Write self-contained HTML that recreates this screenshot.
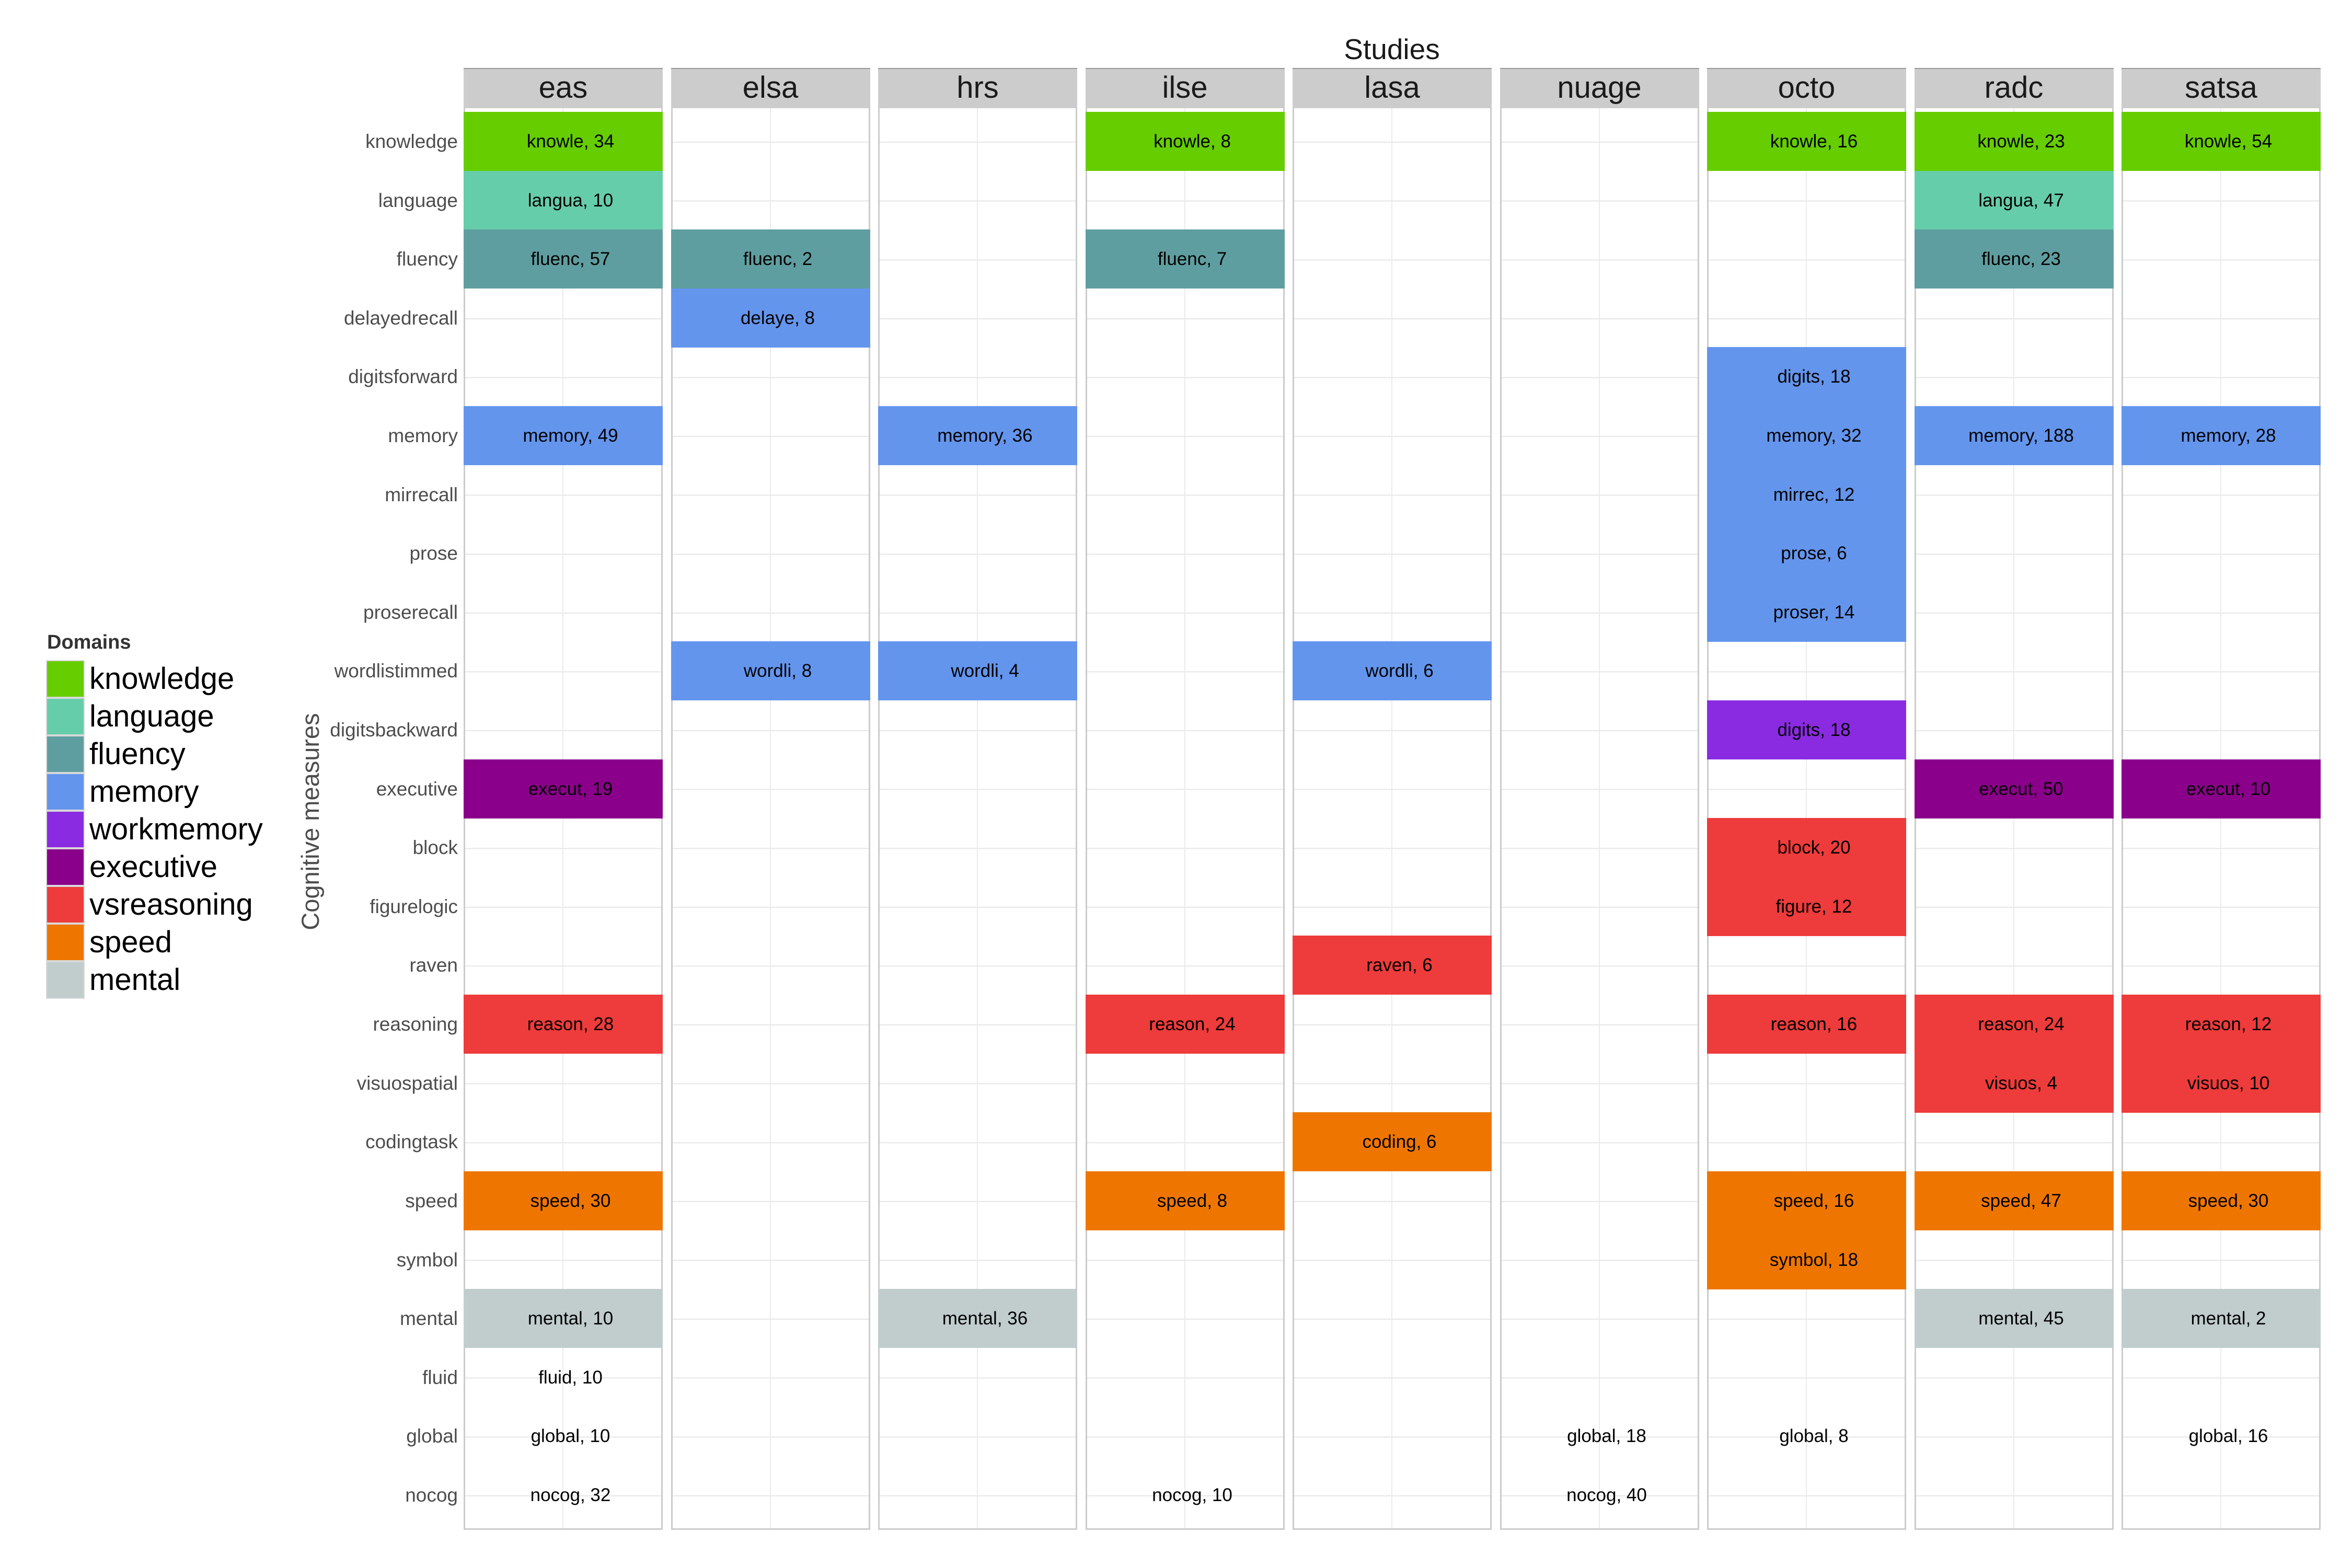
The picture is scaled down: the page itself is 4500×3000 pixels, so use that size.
<!DOCTYPE html>
<html><head><meta charset="utf-8"><style>
body{margin:0;width:4500px;height:3000px;background:#fff;position:relative;overflow:hidden;font-family:"Liberation Sans",Arial,sans-serif}
div{position:absolute;box-sizing:border-box}
.p{top:204px;width:381px;height:2723px;border:3px solid #cccccc;background-color:#fff;
background-image:linear-gradient(to right,transparent 186px,#ebebeb 186px,#ebebeb 188px,transparent 188px),repeating-linear-gradient(to bottom,transparent 0,transparent 110.6px,#e6e6e6 110.6px,#e6e6e6 112.6px);
background-position:0 0,0 -46.6px}
.s{top:130px;width:381px;height:74px;background:#cccccc;border-top:2px solid #999;font-size:58px;line-height:72px;text-align:center;color:#1a1a1a}
.t{width:381px;height:113px;display:flex;align-items:center;justify-content:center;font-size:35px;padding-left:28px;color:#000}
.y{left:300px;width:576px;height:113px;display:flex;align-items:center;justify-content:flex-end;font-size:37px;color:#4d4d4d}
.c0{left:887px}.c1{left:1283.5px}.c2{left:1680px}.c3{left:2076.5px}.c4{left:2473px}.c5{left:2869.5px}.c6{left:3266px}.c7{left:3662.5px}.c8{left:4059px}
.kn{background:#66CD00}.la{background:#66CDAA}.fl{background:#5F9EA0}.me{background:#6495ED}.wm{background:#8A2BE2}.ex{background:#8B008B}.vs{background:#EE3B3B}.sp{background:#EE7600}.mn{background:#C1CDCD}
.k{left:88px;width:74px;height:72px;border:2px solid #d9d9d9}
.kl{left:171px;height:72px;font-size:58px;line-height:72px;color:#000}
</style></head><body>
<div style="left:887px;width:3552px;top:62px;text-align:center;font-size:55px;color:#1a1a1a">Studies</div>
<div style="left:294px;top:1546px;width:600px;height:52px;text-align:center;font-size:47px;line-height:52px;color:#4d4d4d;white-space:nowrap;transform:rotate(-90deg)">Cognitive measures</div>

<div style="left:90px;top:1208px;font-size:38px;font-weight:bold;color:#333">Domains</div>
<div class="k kn" style="top:1263px"></div><div class="kl" style="top:1263px">knowledge</div>
<div class="k la" style="top:1335px"></div><div class="kl" style="top:1335px">language</div>
<div class="k fl" style="top:1407px"></div><div class="kl" style="top:1407px">fluency</div>
<div class="k me" style="top:1479px"></div><div class="kl" style="top:1479px">memory</div>
<div class="k wm" style="top:1551px"></div><div class="kl" style="top:1551px">workmemory</div>
<div class="k ex" style="top:1623px"></div><div class="kl" style="top:1623px">executive</div>
<div class="k vs" style="top:1695px"></div><div class="kl" style="top:1695px">vsreasoning</div>
<div class="k sp" style="top:1767px"></div><div class="kl" style="top:1767px">speed</div>
<div class="k mn" style="top:1839px"></div><div class="kl" style="top:1839px">mental</div>

<div class="y" style="top:214px">knowledge</div>
<div class="y" style="top:327px">language</div>
<div class="y" style="top:439px">fluency</div>
<div class="y" style="top:552px">delayedrecall</div>
<div class="y" style="top:664px">digitsforward</div>
<div class="y" style="top:777px">memory</div>
<div class="y" style="top:890px">mirrecall</div>
<div class="y" style="top:1002px">prose</div>
<div class="y" style="top:1115px">proserecall</div>
<div class="y" style="top:1227px">wordlistimmed</div>
<div class="y" style="top:1340px">digitsbackward</div>
<div class="y" style="top:1453px">executive</div>
<div class="y" style="top:1565px">block</div>
<div class="y" style="top:1678px">figurelogic</div>
<div class="y" style="top:1790px">raven</div>
<div class="y" style="top:1903px">reasoning</div>
<div class="y" style="top:2016px">visuospatial</div>
<div class="y" style="top:2128px">codingtask</div>
<div class="y" style="top:2241px">speed</div>
<div class="y" style="top:2354px">symbol</div>
<div class="y" style="top:2466px">mental</div>
<div class="y" style="top:2579px">fluid</div>
<div class="y" style="top:2691px">global</div>
<div class="y" style="top:2804px">nocog</div>

<div class="s c0">eas</div><div class="s c1">elsa</div><div class="s c2">hrs</div><div class="s c3">ilse</div><div class="s c4">lasa</div><div class="s c5">nuage</div><div class="s c6">octo</div><div class="s c7">radc</div><div class="s c8">satsa</div>
<div class="p c0"></div><div class="p c1"></div><div class="p c2"></div><div class="p c3"></div><div class="p c4"></div><div class="p c5"></div><div class="p c6"></div><div class="p c7"></div><div class="p c8"></div>

<!-- eas -->
<div class="t c0 kn" style="top:214px">knowle, 34</div>
<div class="t c0 la" style="top:327px">langua, 10</div>
<div class="t c0 fl" style="top:439px">fluenc, 57</div>
<div class="t c0 me" style="top:777px">memory, 49</div>
<div class="t c0 ex" style="top:1453px">execut, 19</div>
<div class="t c0 vs" style="top:1903px">reason, 28</div>
<div class="t c0 sp" style="top:2241px">speed, 30</div>
<div class="t c0 mn" style="top:2466px">mental, 10</div>
<div class="t c0" style="top:2579px">fluid, 10</div>
<div class="t c0" style="top:2691px">global, 10</div>
<div class="t c0" style="top:2804px">nocog, 32</div>
<!-- elsa -->
<div class="t c1 fl" style="top:439px">fluenc, 2</div>
<div class="t c1 me" style="top:552px">delaye, 8</div>
<div class="t c1 me" style="top:1227px">wordli, 8</div>
<!-- hrs -->
<div class="t c2 me" style="top:777px">memory, 36</div>
<div class="t c2 me" style="top:1227px">wordli, 4</div>
<div class="t c2 mn" style="top:2466px">mental, 36</div>
<!-- ilse -->
<div class="t c3 kn" style="top:214px">knowle, 8</div>
<div class="t c3 fl" style="top:439px">fluenc, 7</div>
<div class="t c3 vs" style="top:1903px">reason, 24</div>
<div class="t c3 sp" style="top:2241px">speed, 8</div>
<div class="t c3" style="top:2804px">nocog, 10</div>
<!-- lasa -->
<div class="t c4 me" style="top:1227px">wordli, 6</div>
<div class="t c4 vs" style="top:1790px">raven, 6</div>
<div class="t c4 sp" style="top:2128px">coding, 6</div>
<!-- nuage -->
<div class="t c5" style="top:2691px">global, 18</div>
<div class="t c5" style="top:2804px">nocog, 40</div>
<!-- octo -->
<div class="t c6 kn" style="top:214px">knowle, 16</div>
<div class="t c6 me" style="top:664px">digits, 18</div>
<div class="t c6 me" style="top:777px">memory, 32</div>
<div class="t c6 me" style="top:890px">mirrec, 12</div>
<div class="t c6 me" style="top:1002px">prose, 6</div>
<div class="t c6 me" style="top:1115px">proser, 14</div>
<div class="t c6 wm" style="top:1340px">digits, 18</div>
<div class="t c6 vs" style="top:1565px">block, 20</div>
<div class="t c6 vs" style="top:1678px">figure, 12</div>
<div class="t c6 vs" style="top:1903px">reason, 16</div>
<div class="t c6 sp" style="top:2241px">speed, 16</div>
<div class="t c6 sp" style="top:2354px">symbol, 18</div>
<div class="t c6" style="top:2691px">global, 8</div>
<!-- radc -->
<div class="t c7 kn" style="top:214px">knowle, 23</div>
<div class="t c7 la" style="top:327px">langua, 47</div>
<div class="t c7 fl" style="top:439px">fluenc, 23</div>
<div class="t c7 me" style="top:777px">memory, 188</div>
<div class="t c7 ex" style="top:1453px">execut, 50</div>
<div class="t c7 vs" style="top:1903px">reason, 24</div>
<div class="t c7 vs" style="top:2016px">visuos, 4</div>
<div class="t c7 sp" style="top:2241px">speed, 47</div>
<div class="t c7 mn" style="top:2466px">mental, 45</div>
<!-- satsa -->
<div class="t c8 kn" style="top:214px">knowle, 54</div>
<div class="t c8 me" style="top:777px">memory, 28</div>
<div class="t c8 ex" style="top:1453px">execut, 10</div>
<div class="t c8 vs" style="top:1903px">reason, 12</div>
<div class="t c8 vs" style="top:2016px">visuos, 10</div>
<div class="t c8 sp" style="top:2241px">speed, 30</div>
<div class="t c8 mn" style="top:2466px">mental, 2</div>
<div class="t c8" style="top:2691px">global, 16</div>
</body></html>
